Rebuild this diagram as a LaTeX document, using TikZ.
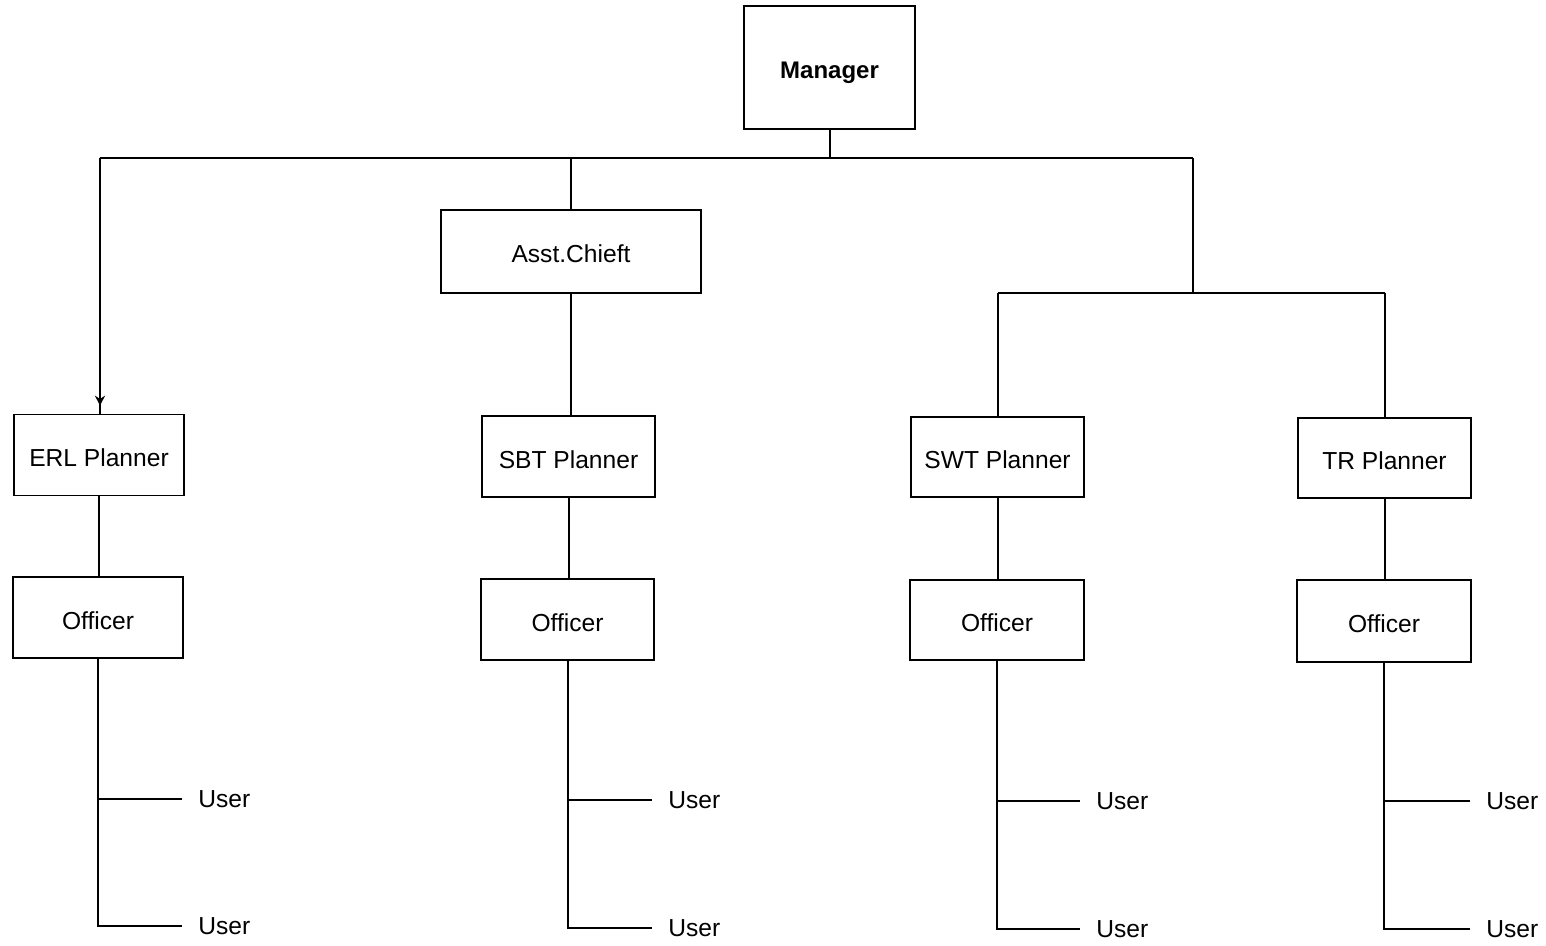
\documentclass[tikz,border=0pt]{standalone}
\usepackage{fontspec}
\setmainfont{Liberation Sans}
\usetikzlibrary{arrows.meta}
\begin{document}
\begin{tikzpicture}[x=0.5pt,y=-0.5pt,
  box/.style={draw, line width=0.8pt, inner sep=0pt, text height=11.5pt, text depth=0pt, font=\fontsize{12.3}{14}\selectfont},
  conn/.style={line width=1pt},
  usr/.style={inner xsep=8pt, inner ysep=0pt, anchor=west, font=\fontsize{12.3}{14}\selectfont}]
\useasboundingbox (0,0) rectangle (1546,946);
% boxes
\node[box, minimum width=85.5pt, minimum height=61.5pt, font=\bfseries\fontsize{12}{14}\selectfont] (mgr) at (829.5,67.5) {Manager};
\node[box, minimum width=130pt, minimum height=41.5pt] (asst) at (571,251.5) {Asst.Chieft};
\node[box, minimum width=85pt, minimum height=40.5pt] (erl) at (99,455) {ERL Planner};
\node[box, minimum width=86.5pt, minimum height=40.5pt] (sbt) at (568.5,456.5) {SBT Planner};
\node[box, minimum width=86.5pt, minimum height=40pt] (swt) at (997.5,457) {SWT Planner};
\node[box, minimum width=86.5pt, minimum height=40pt] (tr) at (1384.5,458) {TR Planner};
\node[box, minimum width=85pt, minimum height=40.5pt] (o1) at (98,617.5) {Officer};
\node[box, minimum width=86.5pt, minimum height=40.5pt] (o2) at (567.5,619.5) {Officer};
\node[box, minimum width=87pt, minimum height=40pt] (o3) at (997,620) {Officer};
\node[box, minimum width=87pt, minimum height=41pt] (o4) at (1384,621) {Officer};
% users
\node[usr] (u1a) at (182,799) {User};
\node[usr] (u1b) at (182,926) {User};
\node[usr] (u2a) at (652,800) {User};
\node[usr] (u2b) at (652,928) {User};
\node[usr] (u3a) at (1080,801) {User};
\node[usr] (u3b) at (1080,929) {User};
\node[usr] (u4a) at (1470,801) {User};
\node[usr] (u4b) at (1470,929) {User};
% junction coordinates
\coordinate (bus) at (829.5,158);
\coordinate (busL) at (100,158);
\coordinate (busR) at (1193,158);
\coordinate (rj) at (1193,293);
\coordinate (rjL) at (998,293);
\coordinate (rjR) at (1385,293);
% connectors
\draw[conn] (mgr.south) -- (bus);
\draw[conn] (busL) -- (busR);
\draw[conn] (busL) -- (busL |- erl.north);
\draw[conn, -{Stealth[length=5pt,width=5pt]}, shorten >=4pt] (busL) -- (busL |- erl.north);
\draw[conn] (asst.north |- bus) -- (asst.north);
\draw[conn] (asst.south) -- (asst.south |- sbt.north);
\draw[conn] (busR) -- (rj);
\draw[conn] (rjL) -- (rjR);
\draw[conn] (rjL) -- (rjL |- swt.north);
\draw[conn] (rjR) -- (rjR |- tr.north);
\draw[conn] (erl.south) -- (erl.south |- o1.north);
\draw[conn] (sbt.south) -- (sbt.south |- o2.north);
\draw[conn] (swt.south) -- (swt.south |- o3.north);
\draw[conn] (tr.south) -- (tr.south |- o4.north);
% officer trunks
\draw[conn] (o1.south) -- (o1.south |- u1b.west) -- (u1b.west);
\draw[conn] (o1.south |- u1a.west) -- (u1a.west);
\draw[conn] (o2.south) -- (o2.south |- u2b.west) -- (u2b.west);
\draw[conn] (o2.south |- u2a.west) -- (u2a.west);
\draw[conn] (o3.south) -- (o3.south |- u3b.west) -- (u3b.west);
\draw[conn] (o3.south |- u3a.west) -- (u3a.west);
\draw[conn] (o4.south) -- (o4.south |- u4b.west) -- (u4b.west);
\draw[conn] (o4.south |- u4a.west) -- (u4a.west);
\end{tikzpicture}
\end{document}
